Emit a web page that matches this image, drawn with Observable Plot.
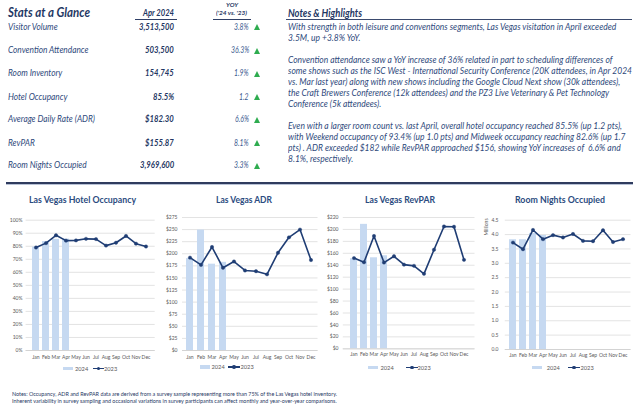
<!DOCTYPE html>
<html><head><meta charset="utf-8">
<script src="https://cdn.jsdelivr.net/npm/d3@7"></script>
<script src="https://cdn.jsdelivr.net/npm/@observablehq/plot@0.6"></script>
<style>
body{margin:0;background:#fff;}
#root{position:relative;width:640px;height:416px;overflow:hidden;font-family:Lato,"Open Sans",sans-serif;background:#fff;}
.a{position:absolute;white-space:nowrap;}
.ln{position:absolute;}
</style></head><body><div id="root"></div>
<script>
// ---------- DATA ----------
const months = ["Jan","Feb","Mar","Apr","May","Jun","Jul","Aug","Sep","Oct","Nov","Dec"];
const occ2024 = [79.4, 83.6, 85.3, 85.5];
const occ2023 = [79.0, 82.4, 88.4, 84.3, 84.5, 85.7, 85.5, 80.5, 82.7, 87.9, 82.0, 79.8];
const adr2024 = [190.0, 249.0, 178.5, 182.3];
const adr2023 = [192, 177, 214, 171, 184, 165.5, 164, 157.5, 202, 234, 250, 187];
const revpar2024 = [151.0, 208.5, 152.5, 155.9];
const revpar2023 = [152, 145, 189, 144.5, 155, 141, 139, 125.6, 166, 205, 204.5, 149];
const nights2024 = [3.82, 3.82, 4.04, 3.97];
const nights2023 = [3.72, 3.49, 4.16, 3.84, 3.98, 3.90, 4.02, 3.78, 3.77, 4.15, 3.74, 3.84];
const occTicks = [0,10,20,30,40,50,60,70,80,90,100];
const adrTicks = [0,25,50,75,100,125,150,175,200,225,250,275];
const revparTicks = [0,20,40,60,80,100,120,140,160,180,200,220];
const nightsTicks = [0,0.5,1.0,1.5,2.0,2.5,3.0,3.5,4.0,4.5];
const seriesNames = ["2024","2023"];

const statLabels = ["Visitor Volume","Convention Attendance","Room Inventory","Hotel Occupancy","Average Daily Rate (ADR)","RevPAR","Room Nights Occupied"];
const statValues = ["3,513,500","503,500","154,745","85.5%","$182.30","$155.87","3,969,600"];
const statYoy = ["3.8%","36.3%","1.9%","1.2","6.6%","8.1%","3.3%"];

const notesParagraphs = [
 ["With strength in both leisure and conventions segments, Las Vegas visitation in April exceeded",
  "3.5M, up +3.8% YoY."],
 ["Convention attendance saw a YoY increase of 36% related in part to scheduling differences of",
  "some shows such as the ISC West - International Security Conference (20K attendees, in Apr 2024",
  "vs. Mar last year) along with new shows including the Google Cloud Next show (30k attendees),",
  "the Craft Brewers Conference (12k attendees) and the PZ3 Live Veterinary & Pet Technology",
  "Conference (5k attendees)."],
 ["Even with a larger room count vs. last April, overall hotel occupancy reached 85.5% (up 1.2 pts),",
  "with Weekend occupancy of 93.4% (up 1.0 pts) and Midweek occupancy reaching 82.6% (up 1.7",
  "pts) . ADR exceeded $182 while RevPAR approached $156, showing YoY increases of  6.6% and",
  "8.1%, respectively."]
];
const footerLines = [
 "Notes: Occupancy, ADR and RevPAR data are derived from a survey sample representing more than 75% of the Las Vegas hotel inventory.",
 "Inherent variability in survey sampling and occasional variations in survey participants can affect monthly and year-over-year comparisons."
];

// ---------- HELPERS ----------
const root = document.getElementById("root");
const NAVY = "#1f3864", TXT = "#2f4a7c";
function txt(s, {x, y, size, weight=400, italic=false, color=NAVY, align="left", w=null, k=null, lh=null}) {
  const d = document.createElement("div");
  d.className = "a";
  d.textContent = s;
  d.style.fontSize = size + "px";
  d.style.fontWeight = weight;
  d.style.fontStyle = italic ? "italic" : "normal";
  d.style.color = color;
  const L = lh || size * 1.3;
  d.style.lineHeight = L + "px";
  d.style.top = (y - L / 2) + "px";
  d.style.left = "0px";
  root.appendChild(d);
  const mw = d.getBoundingClientRect().width;
  const sc = w ? w / mw : (k || 1);
  const fw = mw * sc;
  const left = align === "left" ? x : align === "right" ? x - fw : x - fw / 2;
  d.style.left = left + "px";
  d.style.transformOrigin = "0 50%";
  d.style.transform = `scaleX(${sc})`;
  return sc;
}
function rect(x, y, w, h, c) {
  const d = document.createElement("div");
  d.className = "ln";
  Object.assign(d.style, {left:x+"px", top:y+"px", width:w+"px", height:h+"px", background:c});
  root.appendChild(d);
  return d;
}
function probeK(s, size, weight, target) {
  const p = document.createElement("div");
  p.className = "a"; p.style.fontSize = size + "px"; p.style.fontStyle = "italic"; p.style.fontWeight = weight;
  p.textContent = s; root.appendChild(p);
  const k = target / p.getBoundingClientRect().width; p.remove(); return k;
}

// ---------- TOP LEFT: STATS ----------
txt("Stats at a Glance", {x:8, y:13.3, size:12.5, weight:700, italic:true, w:82});
txt("Apr 2024", {x:174, y:14, size:8.5, weight:700, italic:true, align:"right", w:31});
rect(135, 18.7, 42, 1.3, "#2f3f66");
txt("YOY", {x:231.5, y:4, size:6, weight:700, italic:true, align:"center", w:12, lh:7});
txt("('24 vs. '23)", {x:231.5, y:13.3, size:6, weight:700, italic:true, align:"center", w:31});
rect(213, 18.7, 38, 1.3, "#2f3f66");

const rowY = [27.3, 50.7, 74, 97.3, 120, 143.3, 166];
const labK = probeK(statLabels[4], 8.6, 400, 87);
const valK = probeK(statValues[0], 8.6, 700, 35);
const yoyK = probeK(statYoy[1], 8.6, 400, 18.3);
statLabels.forEach((s, i) => {
  txt(s, {x:8.3, y:rowY[i], size:8.6, italic:true, color:TXT, k:labK});
  txt(statValues[i], {x:174, y:rowY[i], size:8.6, italic:true, weight:700, color:NAVY, align:"right", k:valK});
  txt(statYoy[i], {x:249, y:rowY[i], size:8.6, italic:true, color:"#3b5a8f", align:"right", k:yoyK});
  const t = document.createElement("div");
  t.className = "ln";
  Object.assign(t.style, {left:"254px", top:(rowY[i]-3.2)+"px", width:"0", height:"0",
    borderLeft:"3.6px solid transparent", borderRight:"3.6px solid transparent", borderBottom:"6px solid #2eac4f"});
  root.appendChild(t);
});

// ---------- TOP RIGHT: NOTES ----------
txt("Notes & Highlights", {x:288.3, y:14, size:10.5, weight:700, italic:true, w:74});
rect(286, 18.7, 346, 1.4, "#3a4a6e");
const noteHtml = notesParagraphs.map(p => p.map(l => l.replace(/&/g,"&amp;").replace(/  /g," &nbsp;")).join("<br>")).join("<br><br>");
(() => {
  const d = document.createElement("div");
  d.className = "a"; d.innerHTML = noteHtml;
  Object.assign(d.style, {fontSize:"8.6px", fontStyle:"italic", color:TXT, lineHeight:"11px", left:"288.3px", top:(27.7-5.5)+"px"});
  root.appendChild(d);
  const k = 344 / d.getBoundingClientRect().width;
  d.style.transformOrigin = "0 0"; d.style.transform = `scaleX(${k})`;
})();

// ---------- DIVIDER ----------
rect(6, 182.3, 627, 2, "#2f3b5e");
rect(6, 184.3, 627, 1, "#b8c2d6");

// ---------- CHARTS ----------
const BAR = "#c6d9f1", LINE = "#1f3d74";
const charts = [
  {left:0, pl:25.6, pr:154.7, pt:219.7, pb:350, title:"Las Vegas Hotel Occupancy", tcx:82.5, tw:107,
   ticks:occTicks, fmt:d => d + "%", v24:occ2024, v23:occ2023, ypad:3.6, xpad:5,
   lg:{y:368.3, sw:62.7, t1:75, l:92.7, t2:104}},
  {left:160, pl:182, pr:317.5, pt:217, pb:350, title:"Las Vegas ADR", tcx:244, tw:56,
   ticks:adrTicks, fmt:d => "$" + d, v24:adr2024, v23:adr2023, ypad:5, xpad:5,
   lg:{y:367, sw:200, t1:211.5, l:228.3, t2:240.5}},
  {left:320, pl:342.8, pr:474.5, pt:217, pb:348.3, title:"Las Vegas RevPAR", tcx:400, tw:70,
   ticks:revparTicks, fmt:d => "$" + d, v24:revpar2024, v23:revpar2023, ypad:4.8, xpad:3.5,
   lg:{y:367.7, sw:368.3, t1:380.5, l:406, t2:417.5}},
  {left:480, pl:504.8, pr:630.5, pt:219.7, pb:349, title:"Room Nights Occupied", tcx:560, tw:90,
   ticks:nightsTicks, fmt:d => d.toFixed(1), v24:nights2024, v23:nights2023, ypad:6.8, xpad:3.5,
   lg:{y:367.7, sw:532, t1:546.7, l:568.3, t2:580.5}}
];
const TOP = 205, H = 160, W = 160;
charts.forEach(c => {
  const d24 = c.v24.map((v, i) => ({m: months[i], v}));
  const d23 = c.v23.map((v, i) => ({m: months[i], v}));
  const ymax = c.ticks[c.ticks.length - 1];
  const p = Plot.plot({
    width: W, height: H,
    marginLeft: c.pl - c.left, marginRight: c.left + W - c.pr,
    marginTop: c.pt - TOP, marginBottom: TOP + H - c.pb,
    x: {domain: months, paddingInner: 0.32, paddingOuter: 0.16, label: null},
    y: {domain: [0, ymax], label: null},
    style: {fontFamily: "Lato, sans-serif", fontSize: "5px", color: "#595959", background: "transparent", overflow: "visible"},
    marks: [
      Plot.gridY(c.ticks, {stroke: "#dcdcdc", strokeOpacity: 1, strokeWidth: 0.8}),
      Plot.barY(d24, {x: "m", y: "v", fill: BAR}),
      Plot.ruleY([0], {stroke: "#cfcfcf", strokeWidth: 0.8}),
      Plot.line(d23, {x: "m", y: "v", stroke: LINE, strokeWidth: 1.6}),
      Plot.dot(d23, {x: "m", y: "v", r: 1.7, fill: LINE, stroke: LINE, strokeWidth: 0.4}),
      Plot.axisX({tickSize: 0, tickPadding: c.xpad, fontSize: 5, label: null}),
      Plot.axisY(c.ticks, {tickSize: 0, tickPadding: c.ypad, fontSize: 5, tickFormat: c.fmt, label: null})
    ]
  });
  const holder = document.createElement("div");
  holder.className = "ln";
  Object.assign(holder.style, {left: c.left + "px", top: TOP + "px", width: W + "px", height: H + "px"});
  holder.appendChild(p);
  root.appendChild(holder);

  txt(c.title, {x: c.tcx, y: 201, size: 8.6, weight: 700, color: "#2b4b80", align: "center", w: c.tw});
  // legend
  rect(c.lg.sw, c.lg.y - 1.8, 10, 3.6, BAR);
  txt(seriesNames[0], {x: c.lg.t1, y: c.lg.y, size: 5.7, color: "#595959"});
  rect(c.lg.l, c.lg.y - 0.8, 11.5, 1.6, LINE);
  const dot = rect(c.lg.l + 4, c.lg.y - 1.8, 3.6, 3.6, LINE); dot.style.borderRadius = "50%";
  txt(seriesNames[1], {x: c.lg.t2, y: c.lg.y, size: 5.7, color: "#595959"});
});
// "Millions" axis unit
(() => {
  const d = document.createElement("div");
  d.className = "a"; d.textContent = "Millions";
  Object.assign(d.style, {fontSize: "5px", color: "#595959", lineHeight: "6px", left: "486px", top: "227px",
    transformOrigin: "0 0", transform: "rotate(-90deg) translate(-50%, -50%)"});
  root.appendChild(d);
})();

// ---------- FOOTER ----------
(() => {
  const d = document.createElement("div");
  d.className = "a"; d.innerHTML = footerLines.join("<br>");
  Object.assign(d.style, {fontSize: "5.3px", color: NAVY, lineHeight: "7px", left: "11.7px", top: (394.7 - 3.5) + "px"});
  root.appendChild(d);
  const k = 325 / d.getBoundingClientRect().width;
  d.style.transformOrigin = "0 0"; d.style.transform = `scaleX(${k})`;
})();
</script></body></html>
